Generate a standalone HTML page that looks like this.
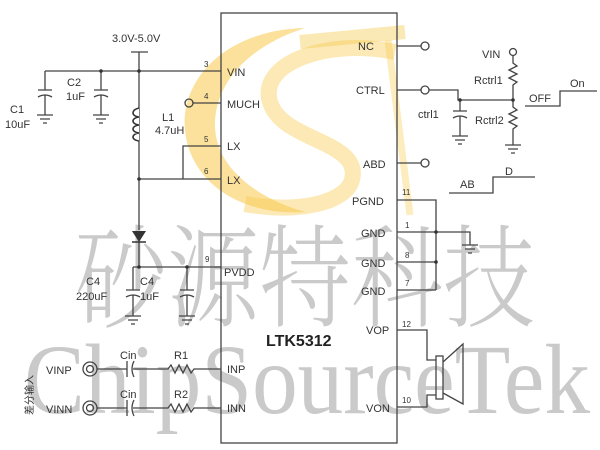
<!DOCTYPE html>
<html><head><meta charset="utf-8"><style>
html,body{margin:0;padding:0;background:#fff;}
svg{display:block;}
text{font-family:"Liberation Sans","Noto Sans CJK SC",sans-serif;fill:#333;}
</style></head><body>
<svg width="600" height="450" viewBox="0 0 600 450" xmlns="http://www.w3.org/2000/svg">
<!-- yellow logo watermark -->
<path d="M305,28 C225,30 180,80 185,130 C190,182 240,216 305,212 C262,200 215,170 215,125 C215,80 252,45 305,28 Z" fill="#f7c948" opacity="0.55"/>
<path d="M395,52 C330,38 258,62 270,102 C282,142 362,140 352,180 C346,202 300,214 245,204" fill="none" stroke="#f7c948" stroke-width="16" opacity="0.4"/>
<path d="M300,42 L405,32" stroke="#f7c948" stroke-width="14" opacity="0.4"/>
<path d="M388,40 L410,215" stroke="#f7c948" stroke-width="7" opacity="0.35"/>

<!-- gray watermark text -->
<text x="75" y="318" font-size="112" font-weight="300" style="font-family:'Noto Serif CJK SC','WenQuanYi Zen Hei',serif;fill:#cacaca" textLength="460" lengthAdjust="spacingAndGlyphs">砂源特科技</text>
<text x="24" y="413" font-size="100" style="font-family:'Liberation Serif',serif;fill:#cacaca" textLength="566" lengthAdjust="spacingAndGlyphs">ChipSourceTek</text>

<g stroke="#444" stroke-width="1.3" fill="none">
<rect x="221" y="13" width="176" height="430"/>
<path d="M45,71 H221"/>
<path d="M131,52 H148 M139,52 V179"/>
<path d="M45,71 V90 M38,90 H52 M38,97 Q45,93 52,97 M45,95 V115 M37,115 H53 M40,119 H50 M43,123 H47"/>
<path d="M101,71 V90 M94,90 H108 M94,97 Q101,93 108,97 M101,95 V115 M93,115 H109 M96,119 H106 M99,123 H103"/>
<path d="M139,179 H221 M183,179 V146 H221"/>
<path d="M139,179 V230"/>
<path d="M193,103 H221"/>
<circle cx="189" cy="103" r="4"/>
<path d="M139,242 V267 M133,267 H221"/>
<path d="M133,267 V290 M126,290 H140 M126,297 Q133,293 140,297 M133,295 V316 M125,316 H141 M128,320 H138 M131,324 H135"/>
<path d="M187,267 V290 M180,290 H194 M180,297 Q187,293 194,297 M187,295 V316 M179,316 H195 M182,320 H192 M185,324 H189"/>
<path d="M397,46 H421 M397,90 H421 M429,90 H458 V100 H513 M397,163 H421"/>
<circle cx="425" cy="46" r="4"/><circle cx="425" cy="90" r="4"/><circle cx="425" cy="163" r="4"/>
<path d="M460,100 V111 M453,111 H467 M453,118 Q460,114 467,118 M460,116 V136 M452,136 H468 M455,140 H465 M458,144 H462"/>
<circle cx="513" cy="52" r="3.5"/>
<path d="M513,56 V63 L517,66 L509,70 L517,74 L509,78 L517,82 L513,85 V100 V107 L517,110 L509,114 L517,118 L509,122 L517,126 L513,129 V145 M505,145 H521 M508,149 H518 M511,153 H515"/>
<path d="M525,106 H560 V91 H597"/>
<path d="M449,193 H493 V177 H535"/>
<path d="M397,200 H436 V290 M397,232 H470 V245 M462,245 H478 M465,249 H475 M468,253 H472 M397,262 H436 M397,290 H436"/>
<path d="M397,330 H427 V360 H436 M397,407 H427 V395 H436"/>
<rect x="436" y="356" width="7" height="43"/>
<path d="M443,362 L463,344 V404 L443,393"/>
<circle cx="90" cy="369" r="7"/><circle cx="90" cy="369" r="3.5"/>
<circle cx="90" cy="408" r="7"/><circle cx="90" cy="408" r="3.5"/>
<path d="M97,369 H127 M133,369 H168 L171,365 L175,373 L179,365 L183,373 L187,365 L191,373 L194,369 H221"/>
<path d="M127,361 V377 M134,361 Q130,369 134,377"/>
<path d="M97,408 H127 M133,408 H168 L171,404 L175,412 L179,404 L183,412 L187,404 L191,412 L194,408 H221"/>
<path d="M127,400 V416 M134,400 Q130,408 134,416"/>
</g>
<g stroke="#333" stroke-width="1.6" fill="#fff">
<path d="M139,108 C131,110 131,116 139,117 C131,118 131,124 139,125 C131,126 131,132 139,133 C131,134 131,140 139,141"/>
</g>
<path d="M132,231 H146 L139,242 Z" fill="#333"/>
<path d="M132,242 H146" stroke="#333" stroke-width="1.5"/>
<g fill="#333">
<circle cx="139" cy="71" r="1.8"/><circle cx="101" cy="71" r="1.8"/><circle cx="139" cy="179" r="1.8"/><circle cx="139" cy="267" r="1.8"/><circle cx="187" cy="267" r="1.8"/>
<circle cx="460" cy="100" r="1.8"/><circle cx="513" cy="100" r="1.8"/><circle cx="436" cy="232" r="1.8"/><circle cx="436" cy="262" r="1.8"/>
</g>

<g font-size="11">
<text x="112" y="42">3.0V-5.0V</text>
<text x="67" y="86">C2</text><text x="66" y="100">1uF</text>
<text x="10" y="113">C1</text><text x="5" y="128">10uF</text>
<text x="162" y="121">L1</text><text x="155" y="134">4.7uH</text>
<text x="227" y="76">VIN</text>
<text x="227" y="108">MUCH</text>
<text x="227" y="150">LX</text>
<text x="227" y="184">LX</text>
<text x="224" y="276">PVDD</text>
<text x="227" y="373">INP</text>
<text x="227" y="412">INN</text>
<text x="86" y="285">C4</text><text x="76" y="300">220uF</text>
<text x="140" y="285">C4</text><text x="140" y="300">1uF</text>
<text x="120" y="359">Cin</text><text x="120" y="398">Cin</text>
<text x="174" y="359">R1</text><text x="174" y="398">R2</text>
<text x="46" y="374">VINP</text><text x="46" y="413">VINN</text>
<text x="358" y="50">NC</text>
<text x="356" y="94">CTRL</text>
<text x="363" y="168">ABD</text>
<text x="352" y="205">PGND</text>
<text x="361" y="237">GND</text>
<text x="361" y="267">GND</text>
<text x="361" y="295">GND</text>
<text x="366" y="334">VOP</text>
<text x="366" y="412">VON</text>
<text x="418" y="118">ctrl1</text>
<text x="482" y="58">VIN</text>
<text x="474" y="84">Rctrl1</text>
<text x="475" y="124">Rctrl2</text>
<text x="529" y="102">OFF</text>
<text x="570" y="87">On</text>
<text x="460" y="188">AB</text>
<text x="505" y="175">D</text>
</g>
<g font-size="8" style="font-family:'Liberation Serif',serif">
<text x="204" y="67">3</text><text x="204" y="99">4</text><text x="204" y="142">5</text><text x="204" y="174">6</text><text x="205" y="262">9</text>
<text x="402" y="195">11</text><text x="405" y="228">1</text><text x="405" y="258">8</text><text x="405" y="286">7</text><text x="402" y="327">12</text><text x="402" y="403">10</text>
</g>
<text x="266" y="346" font-size="16" font-weight="bold" style="fill:#222">LTK5312</text>
<text transform="translate(33,415) rotate(-90)" font-size="10">差分输入</text>
</svg>
</body></html>
